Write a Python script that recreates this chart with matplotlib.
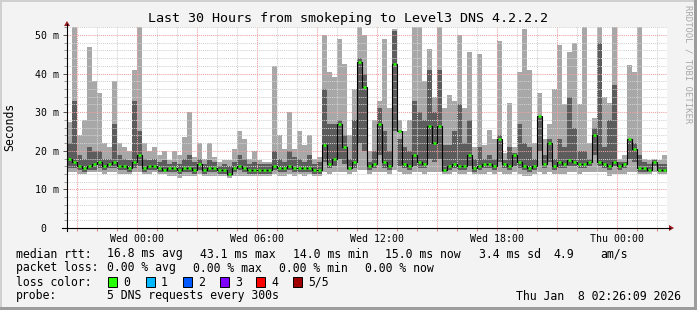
import numpy as np
import matplotlib
matplotlib.use('Agg')
import matplotlib.pyplot as plt
from matplotlib.lines import Line2D
from matplotlib.patches import Rectangle, Polygon

W, H = 697, 310
plt.rcParams['font.family'] = ['DejaVu Sans Mono']

# 15 minute bins, hours relative to Wed 00:00, first bin starts Tue 20:30
t_start = -3.5
bin_h = 0.25

# smoke: 5 pings per step, sorted (ms)
ping_min = [14.5, 14.5, 14, 14, 14.5, 14.5, 14.5, 14, 14.5, 14.5, 14, 14, 14, 14.5, 14.5, 14, 14, 14.5, 14, 14,
            13.5, 13.5, 13, 13.5, 13.5, 13.5, 14, 13.5, 13.5, 13.5, 13.5, 13.5, 13, 13.5, 13.5, 13.5, 13.5, 13.5, 13.5, 13.5,
            13.5, 14, 13.5, 13.5, 14, 13.5, 14, 13.5, 14, 13.5, 13.5, 14.5, 14, 14.5, 14.5, 14.5, 14, 14.5, 15, 15,
            14, 14.5, 14.5, 14.5, 14, 15, 14.5, 14, 14, 14.5, 14.5, 14, 14.5, 14.5, 14.5, 14, 14, 14.5, 14, 14,
            14.5, 14, 14, 14, 14.5, 14, 14.5, 14, 14, 14.5, 14, 13.5, 13.5, 14, 14.5, 14, 14.5, 14, 14, 14,
            14.5, 14.5, 14, 14.5, 14.5, 14.5, 14.5, 14.5, 13.5, 14, 14, 14, 14.5, 14.5, 14, 14, 14, 14.5, 14, 14]
ping_2 = [15.5, 15.5, 15, 14.5, 15, 15, 15.5, 15, 15.5, 15.5, 15, 15, 14.5, 15.5, 16, 14.5, 15, 15, 14.5, 14.5,
          14.5, 14.5, 14, 14.5, 14.5, 14, 15, 14, 14.5, 14.5, 14, 14, 13.5, 14.5, 15, 14.5, 14, 14, 14, 14,
          14, 15, 14.5, 14.5, 15, 14.5, 14.5, 14.5, 14.5, 14, 14, 17, 15.5, 16, 18, 16.5, 15, 15.5, 22, 20,
          15, 15.5, 19, 15.5, 15, 25, 16, 15.5, 15, 16, 15.5, 15.5, 18, 17, 18, 14.5, 15, 15.5, 15, 15,
          16, 14.5, 15, 15.5, 15.5, 15, 17, 15.5, 15, 16, 15.5, 15, 14.5, 15, 20, 15.5, 17, 15, 15.5, 15.5,
          16, 16, 15.5, 15.5, 16, 19, 16, 15.5, 15, 16, 15, 15.5, 18, 17, 14.5, 14.5, 14.5, 16, 14.5, 14.5]
median = [18, 17, 16, 15.5, 16, 16.5, 17, 16, 16.5, 17, 16, 16, 15.5, 17, 19, 15.5, 16, 16, 15.5, 15,
          15.5, 15.5, 15, 15.5, 15.5, 15, 16.5, 15, 15.5, 15.5, 15, 15, 14, 15.5, 16, 15.5, 15, 15, 15, 15,
          15, 16, 15.5, 15.5, 16, 15.5, 15.5, 15.5, 15.5, 15, 15, 21.5, 16.5, 18, 27, 21, 15.5, 17, 43, 36.5,
          16, 16.5, 27, 17, 16, 42.5, 25, 16.5, 16, 19, 17, 16.5, 26.5, 22, 26.5, 15, 16, 16.5, 16, 16,
          19, 15.5, 16, 16.5, 16.5, 16, 23, 16.5, 16, 19, 17, 16, 15.5, 16, 29, 16.5, 22, 16, 17, 16.5,
          17.5, 17, 16.5, 16.5, 17, 24, 17, 16.5, 16, 17, 16, 16.5, 23, 20.5, 15.5, 15.5, 15, 17, 15, 15]
ping_4 = [22, 33, 19, 18, 21, 20, 20, 18, 18, 27, 19, 18, 17.5, 33, 25, 18, 17.5, 18, 17, 17.5,
          16.5, 17, 16.5, 18, 19, 17, 18, 16.5, 17.5, 17, 16, 16.5, 16, 17, 19, 18, 16.5, 17, 16.5, 16.5,
          16.5, 20, 18, 17, 20, 18.5, 18, 17, 19, 16.5, 17, 36, 27, 27, 28, 24, 18, 28, 44, 40,
          17, 20, 31, 25, 20, 51, 23, 21, 20, 33, 30, 28, 41, 30, 41, 21.5, 21.5, 25, 32, 22,
          28, 18, 21, 18, 19, 18, 24, 17.5, 21, 19.5, 27, 22, 21, 18, 29, 19, 23, 18, 23, 21,
          34, 26, 20, 20, 18, 26, 48, 21, 28, 37, 17, 17, 23, 22, 19, 17, 16.5, 17.5, 16.5, 16.5]
ping_max = [27.5, 52, 24, 28, 47, 38, 35, 22, 21, 38, 22, 21, 20, 41, 52, 22, 20, 21, 19, 20,
            17.5, 20, 19, 23.5, 30, 18.5, 22, 18, 22, 18.5, 17, 17.5, 17.5, 20.5, 25, 23, 18, 20, 17.5, 17,
            17, 42, 24, 20.5, 30, 20.5, 25, 21.5, 24, 18, 18.5, 50, 40.5, 39, 49, 42.5, 24, 36, 53, 50,
            20, 28, 33, 49, 31, 51.5, 28, 25, 28, 52, 52, 38, 46.5, 34, 52, 31, 34.5, 33, 50, 31,
            45.5, 21, 45, 21.5, 25.5, 23, 48.5, 19.5, 32.5, 21, 40.5, 51.5, 41, 22, 35, 23, 27, 36, 47.5, 32,
            45.5, 48, 32, 52, 22, 28.5, 52, 34, 32.5, 52, 18, 19, 42.3, 40.5, 52, 18, 17.5, 18, 17.5, 19]

x_ticks = [0, 6, 12, 18, 24]
x_labels = ['Wed 00:00', 'Wed 06:00', 'Wed 12:00', 'Wed 18:00', 'Thu 00:00']
y_ticks = [0, 10, 20, 30, 40, 50]
y_labels = ['0  ', '10 m', '20 m', '30 m', '40 m', '50 m']

loss_names = ['0', '1', '2', '3', '4', '5/5']
loss_colors = ['#26ff00', '#00b8ff', '#0059ff', '#7e00ff', '#ff0000', '#a00000']


def px(x, y):
    return x / W, 1 - y / H


fig = plt.figure(figsize=(W / 100, H / 100), dpi=100, facecolor='#f3f3f3')
ax = fig.add_axes([67 / W, 1 - 228 / H, 600 / W, (228 - 26.5) / H])
ax.set_facecolor('white')
ax.set_xlim(-3.5, 26.5)
ax.set_ylim(0, 52.2)
for s in ax.spines.values():
    s.set_visible(False)

edges = t_start + bin_h * np.arange(len(median) + 1)
t = edges[:-1]
ax.stairs(ping_max, edges, baseline=ping_min, fill=True, color='#a8a8a8', lw=0, zorder=1)
ax.stairs(ping_4, edges, baseline=ping_2, fill=True, color='#5c5c5c', lw=0, zorder=2)

# grid on top of the smoke, like rrdtool
for h in range(-3, 27):
    major = h % 3 == 0
    ax.axvline(h, color='#f0a0a0' if major else '#d2d2d2', lw=0.75,
               ls=(0, (1, 1)), zorder=3)
for v in range(2, 53, 2):
    major = v % 10 == 0
    ax.axhline(v, color='#f0a0a0' if major else '#d2d2d2', lw=0.75,
               ls=(0, (1, 1)), zorder=3)

ax.stairs(median, edges, baseline=None, color='black', lw=0.8, zorder=4)
ax.hlines(median, t + 0.05, t + 0.2, colors=loss_colors[0], lw=1.8, zorder=5)

ax.set_xticks(x_ticks, labels=x_labels)
ax.set_xticks(range(-3, 27), minor=True)
ax.set_yticks(y_ticks, labels=y_labels)
ax.set_yticks(range(0, 53, 2), minor=True)
ax.tick_params(axis='x', which='both', length=2, width=0.7, color='#e08080', pad=2,
               labelsize=7.1)
ax.tick_params(axis='y', which='major', length=3, width=0.7, color='#555555', pad=3,
               labelsize=7.1)
ax.tick_params(axis='y', which='minor', length=2, width=0.7, color='#999999')

# axes with arrows
fig.add_artist(Line2D([px(62, 0)[0], px(670, 0)[0]], [px(0, 228)[1]] * 2,
                      transform=fig.transFigure, color='black', lw=0.8))
fig.add_artist(Line2D([px(67, 0)[0]] * 2, [px(0, 231)[1], px(0, 24)[1]],
                      transform=fig.transFigure, color='black', lw=0.8))
fig.add_artist(Polygon([px(669, 225), px(669, 231), px(674, 228)], closed=True,
                       transform=fig.transFigure, color='#9b1b1b', lw=0))
fig.add_artist(Polygon([px(64, 26), px(70, 26), px(67, 21)], closed=True,
                       transform=fig.transFigure, color='#9b1b1b', lw=0))

fig.text(*px(348, 18.5), 'Last 30 Hours from smokeping to Level3 DNS 4.2.2.2',
         ha='center', va='center', fontsize=9.6)
fig.text(*px(10, 127), 'Seconds', rotation=90, ha='center', va='center', fontsize=8.3)
fig.text(*px(688, 5), 'RRDTOOL / TOBI OETIKER', rotation=270, ha='center', va='top',
         fontsize=6.4, color='#a8a8a8')

fs = 8.3
rows = [
    (254, [(16, 'median rtt:'), (107, '16.8 ms avg'), (200, '43.1 ms max'),
           (293, '14.0 ms min'), (385, '15.0 ms now'), (479, '3.4 ms sd'),
           (553, '4.9'), (600, 'am/s')]),
    (268, [(16, 'packet loss:'), (107, '0.00 % avg'), (193, '0.00 % max'),
           (279, '0.00 % min'), (365, '0.00 % now')]),
    (282, [(16, 'loss color:')]),
    (296, [(16, 'probe:'), (107, '5 DNS requests every 300s')]),
]
for y, items in rows:
    for x, s in items:
        fig.text(*px(x, y), s, ha='left', va='center', fontsize=fs)
fig.text(*px(681, 296), 'Thu Jan  8 02:26:09 2026', ha='right', va='center', fontsize=fs)

box_x = [108, 145.5, 182.5, 219.5, 256, 293]
for bx, name, c in zip(box_x, loss_names, loss_colors):
    x0, y0 = px(bx, 287)
    fig.add_artist(Rectangle((x0, y0), 9 / W, 10 / H, transform=fig.transFigure,
                             facecolor=c, edgecolor='black', lw=0.7))
    fig.text(*px(bx + 15.5, 282), name, ha='left', va='center', fontsize=fs)

# 3d-ish frame
fig.add_artist(Rectangle((0, 1 - 2 / H), 1, 2 / H, transform=fig.transFigure,
                         facecolor='#d0d0d0', lw=0))
fig.add_artist(Rectangle((0, 0), 2 / W, 1, transform=fig.transFigure,
                         facecolor='#d0d0d0', lw=0))
fig.add_artist(Rectangle((0, 0), 1, 3 / H, transform=fig.transFigure,
                         facecolor='#9c9c9c', lw=0))
fig.add_artist(Rectangle((1 - 3 / W, 0), 3 / W, 1, transform=fig.transFigure,
                         facecolor='#9c9c9c', lw=0))

fig.savefig('out.png', dpi=100, facecolor=fig.get_facecolor())
